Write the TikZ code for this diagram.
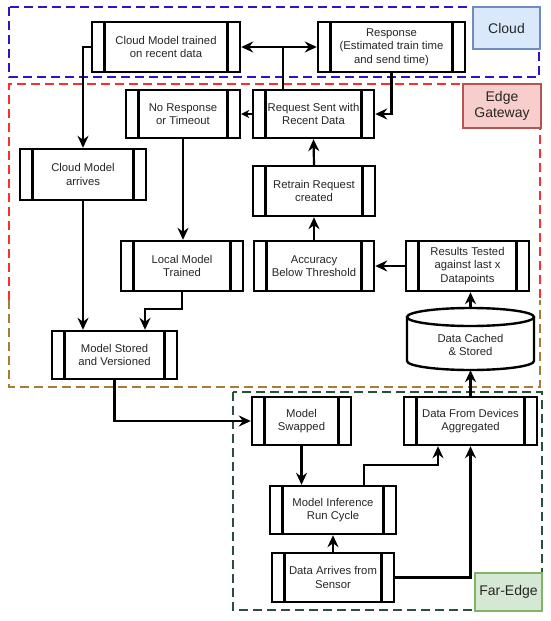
\documentclass[tikz,border=0pt]{standalone}
\usepackage{fontspec}
\setmainfont{Liberation Sans}
\usetikzlibrary{arrows.meta,calc}
\definecolor{cloudline}{RGB}{45,20,200}
\definecolor{edgeline}{RGB}{255,45,45}
\definecolor{brownline}{RGB}{165,125,55}
\definecolor{farline}{RGB}{40,80,60}
\definecolor{cloudF}{HTML}{DAE8FC}
\definecolor{cloudB}{HTML}{6C8EBF}
\definecolor{edgeF}{HTML}{F8CECC}
\definecolor{edgeB}{HTML}{B85450}
\definecolor{farF}{HTML}{D5E8D4}
\definecolor{farB}{HTML}{82B366}
\begin{document}
\begin{tikzpicture}[x=1pt,y=-1pt,
  proc/.style={draw, line width=2.4pt, fill=white, rectangle, inner sep=0pt, align=center,
    font=\fontsize{11.3}{13.6}\selectfont, text=black!85,
    path picture={\draw[line width=2.4pt] ([xshift=12.5pt]path picture bounding box.north west) -- ([xshift=12.5pt]path picture bounding box.south west);
    \draw[line width=2.4pt] ([xshift=-12.5pt]path picture bounding box.north east) -- ([xshift=-12.5pt]path picture bounding box.south east);}},
  arr/.style={line width=2.2pt, -{Stealth[length=12pt,width=11pt,inset=4pt]}},
  sarr/.style={line width=2.2pt, -{Stealth[length=8pt,width=8pt,inset=2.5pt]}},
  ln/.style={line width=2.2pt},
  region/.style={dash pattern=on 9pt off 5pt, line width=2.3pt},
  tag/.style={line width=1.8pt, inner sep=0pt, align=center, font=\fontsize{14}{16.5}\selectfont, text=black!85}
]
\useasboundingbox (0,0) rectangle (550,621);

% regions
\draw[region, cloudline] (9,7) rectangle (539,77);
\draw[region, edgeline] (9,300) -- (9,84) -- (540,84) -- (540,300);
\draw[region, brownline] (9,300) -- (9,387) -- (540,387) -- (540,300);
\draw[region, farline] (233,392) rectangle (542,610);

% region tags
\node[tag, draw=cloudB, fill=cloudF, minimum width=67pt, minimum height=42pt] (tCloud) at (506.5,28) {Cloud};
\node[tag, draw=edgeB, fill=edgeF, minimum width=78pt, minimum height=44pt] (tEdge) at (502,106) {Edge\\Gateway};
\node[tag, draw=farB, fill=farF, minimum width=67pt, minimum height=38pt] (tFar) at (508.5,592) {Far-Edge};

% process boxes
\node[proc, minimum width=148pt, minimum height=50pt] (CMT) at (166,47) {Cloud Model trained\\on recent data};
\node[proc, minimum width=147pt, minimum height=50pt] (Resp) at (391.5,47) {Response\\(Estimated train time\\and send time)};
\node[proc, minimum width=114pt, minimum height=48pt] (NoResp) at (183,114) {No Response\\or Timeout};
\node[proc, minimum width=121pt, minimum height=48pt] (ReqSent) at (313.5,114) {Request Sent with\\Recent Data};
\node[proc, minimum width=126pt, minimum height=51pt] (CMA) at (83,174.5) {Cloud Model\\arrives};
\node[proc, minimum width=122pt, minimum height=50pt] (Retrain) at (314,191) {Retrain Request\\created};
\node[proc, minimum width=122pt, minimum height=50pt] (Local) at (182,266) {Local Model\\Trained};
\node[proc, minimum width=120pt, minimum height=50pt] (Acc) at (314,266) {Accuracy\\Below Threshold};
\node[proc, minimum width=123pt, minimum height=50pt] (Results) at (467.5,266) {Results Tested\\against last x\\Datapoints};
\node[proc, minimum width=125pt, minimum height=48pt] (Stored) at (114.5,355) {Model Stored\\and Versioned};
\node[proc, minimum width=99pt, minimum height=48pt] (Swapped) at (301.5,421) {Model\\Swapped};
\node[proc, minimum width=133pt, minimum height=48pt] (Devices) at (470.5,421) {Data From Devices\\Aggregated};
\node[proc, minimum width=126pt, minimum height=48pt] (Inference) at (333,510) {Model Inference\\Run Cycle};
\node[proc, minimum width=122pt, minimum height=49pt] (Arrives) at (333,577.5) {Data Arrives from\\Sensor};

% cylinder
\node[minimum width=127pt, minimum height=62pt, inner sep=0pt] (cyl) at (470.5,339) {};
\draw[line width=2.4pt, fill=white] (407,317) -- (407,361) arc[start angle=180, end angle=360, x radius=63.5pt, y radius=9pt] -- (534,317);
\draw[line width=2.4pt, fill=white] (470.5,317) ellipse [x radius=63.5pt, y radius=9pt];
\node[align=center, font=\fontsize{11.3}{13.6}\selectfont, text=black!85] (cyltext) at (470.5,345) {Data Cached\\\& Stored};

% connectors
\coordinate (j) at (283,47);
\coordinate (rq) at (283,90);
\draw[ln] (rq) -- (j);
\draw[arr] (j) -- (CMT.east);
\draw[arr] (j) -- (Resp.west);
\draw[arr] (Resp.south) |- (ReqSent.east);
\draw[sarr] (ReqSent.west) -- (NoResp.east);
\draw[arr] (CMT.west) -| (CMA.north);
\draw[arr] (NoResp.south) -- (NoResp.south |- Local.north);
\draw[arr] (Retrain.north) -- (ReqSent.south);
\draw[arr] (Acc.north) -- (Retrain.south);
\draw[arr] (Results.west) -- (Acc.east);
\draw[arr] (cyl.north) -- (cyl.north |- Results.south);
\draw[arr] (CMA.south) -- (CMA.south |- Stored.north);
\coordinate (l1) at (145,309);
\draw[arr] (Local.south) |- (l1) -- (l1 |- Stored.north);
\draw[arr] (Stored.south) |- (Swapped.west);
\draw[arr] (Swapped.south) -- (Swapped.south |- Inference.north);
\draw[arr] (Arrives.north) -- (Inference.south);
\coordinate (i1) at (364,486);
\coordinate (c1) at (438,465);
\draw[arr] (i1) |- (c1) -- (c1 |- Devices.south);
\draw[arr] (Arrives.east) -| (Devices.south);
\draw[arr] (Devices.north) -- (Devices.north |- cyl.south);
\end{tikzpicture}
\end{document}
